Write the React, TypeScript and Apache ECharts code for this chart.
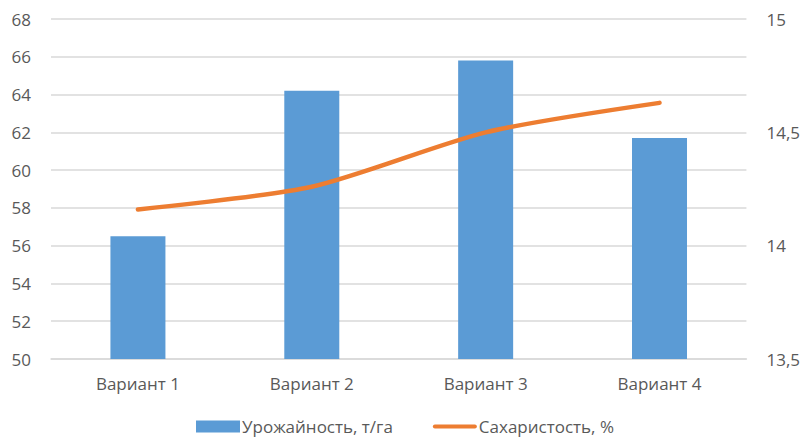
import React, { useEffect, useRef } from "react";
import * as echarts from "echarts";

const categories = ["Вариант 1", "Вариант 2", "Вариант 3", "Вариант 4"];
const yieldValues = [56.5, 64.2, 65.8, 61.7];
const sugarValues = [14.16, 14.26, 14.5, 14.63];
const yieldName = "Урожайность, т/га";
const sugarName = "Сахаристость, %";

const FONT = "'Open Sans', 'DejaVu Sans', sans-serif";
const TEXT = "#595959";

export default function App() {
  const ref = useRef<HTMLDivElement>(null);
  useEffect(() => {
    if (!ref.current) return;
    const chart = echarts.init(ref.current, undefined, { renderer: "svg" });
    chart.setOption({
      animation: false,
      textStyle: { fontFamily: FONT },
      grid: { left: 51, right: 55, top: 19, bottom: 82, containLabel: false },
      legend: {
        bottom: 6,
        left: 196,
        padding: 0,
        itemGap: 40,
        itemWidth: 44,
        itemHeight: 12,
        symbolKeepAspect: true,
        textStyle: { color: TEXT, fontSize: 17, fontFamily: FONT, padding: [0, 0, 0, -3] },
        data: [
          { name: yieldName, icon: "rect" },
          { name: sugarName, icon: "path://M2,0 L42,0 A2,2 0 0 1 42,4 L2,4 A2,2 0 0 1 2,0 Z" },
        ],
      },
      xAxis: {
        type: "category",
        data: categories,
        axisTick: { show: false },
        axisLine: { lineStyle: { color: "#d9d9d9", width: 1.5 } },
        axisLabel: { color: TEXT, fontSize: 17, margin: 16, fontFamily: FONT },
      },
      yAxis: [
        {
          type: "value",
          min: 50,
          max: 68,
          interval: 2,
          axisLine: { show: false },
          axisTick: { show: false },
          splitLine: { lineStyle: { color: "#d9d9d9", width: 1.5 } },
          axisLabel: { color: TEXT, fontSize: 17, margin: 20, fontFamily: FONT },
        },
        {
          type: "value",
          min: 13.5,
          max: 15,
          interval: 0.5,
          axisLine: { show: false },
          axisTick: { show: false },
          splitLine: { show: false },
          axisLabel: {
            color: TEXT,
            fontSize: 17,
            margin: 20,
            fontFamily: FONT,
            formatter: (v: number) => String(v).replace(".", ","),
          },
        },
      ],
      series: [
        {
          name: yieldName,
          type: "bar",
          data: yieldValues,
          barWidth: 55,
          itemStyle: { color: "#5B9BD5" },
        },
        {
          name: sugarName,
          type: "line",
          yAxisIndex: 1,
          data: sugarValues,
          smooth: 0.25,
          symbol: "none",
          lineStyle: { color: "#ED7D31", width: 4.5, cap: "round" },
          itemStyle: { color: "#ED7D31" },
        },
      ],
    });
    return () => chart.dispose();
  }, []);
  return <div ref={ref} style={{ width: 803, height: 441, position: "absolute", left: 0, top: 0 }} />;
}
